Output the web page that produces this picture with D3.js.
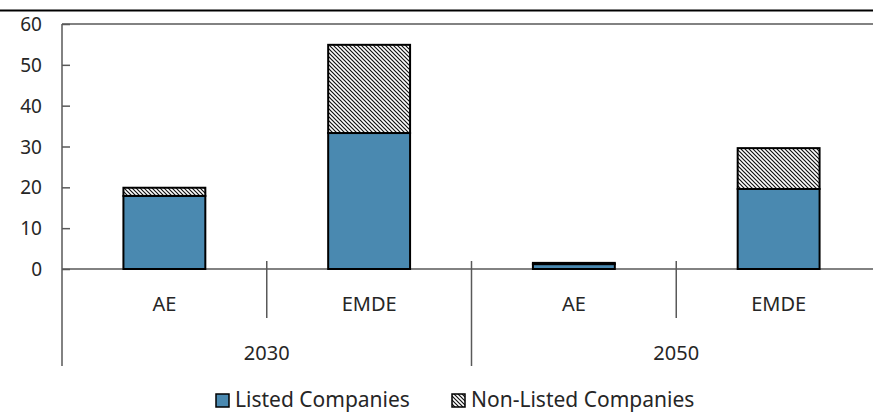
<!DOCTYPE html>
<html>
<head>
<meta charset="utf-8">
<script src="https://cdn.jsdelivr.net/npm/d3@7"></script>
<style>
  body { margin: 0; background: #fff; }
  text { font-family: "Noto Sans", "Open Sans", sans-serif; fill: #262626; }
</style>
</head>
<body>
<div id="chart"></div>
<script>
// data
var years = ["2030", "2050"];
var regions = ["AE", "EMDE"];
var listed = [17.9, 33.3, 1.2, 19.6];
var nonListed = [2.0, 21.6, 0.3, 10.0];
var yTicks = [0, 10, 20, 30, 40, 50, 60];
var seriesNames = ["Listed Companies", "Non-Listed Companies"];

var W = 873, H = 412;
var plotBottom = 269;

var svg = d3.select("#chart").append("svg")
    .attr("width", W)
    .attr("height", H);

// hatch pattern for non-listed
var defs = svg.append("defs");
var pat = defs.append("pattern")
    .attr("id", "hatch")
    .attr("patternUnits", "userSpaceOnUse")
    .attr("width", 4)
    .attr("height", 4);
pat.append("rect").attr("width", 4).attr("height", 4).attr("fill", "#fff");
pat.append("path")
    .attr("d", "M0,0 L4,4 M-1,3 L1,5 M3,-1 L5,1")
    .attr("stroke", "#111")
    .attr("stroke-width", 1.2);

// build the category list (year x region)
var cats = [];
years.forEach(function(yr) {
    regions.forEach(function(r) { cats.push({year: yr, region: r, key: yr + "-" + r}); });
});
cats.forEach(function(c, i) { c.listed = listed[i]; c.nonListed = nonListed[i]; });

var x = d3.scaleBand()
    .domain(cats.map(function(d) { return d.key; }))
    .range([62, 881])
    .paddingInner(0.6)
    .paddingOuter(0.3);
var step = x.step();

var y = d3.scaleLinear().domain([0, 60]).range([plotBottom, 24]);

// top black rule
svg.append("line")
    .attr("x1", 0).attr("x2", W)
    .attr("y1", 10.5).attr("y2", 10.5)
    .attr("stroke", "#000")
    .attr("stroke-width", 2);

// plot top border
svg.append("line")
    .attr("x1", 62).attr("x2", W)
    .attr("y1", 24).attr("y2", 24)
    .attr("stroke", "#595959")
    .attr("stroke-width", 1.5);

// y axis
var yAxis = d3.axisLeft(y).tickValues(yTicks).tickSize(-8).tickPadding(20);
var gy = svg.append("g")
    .attr("transform", "translate(62,0)")
    .call(yAxis);
gy.select(".domain").remove();
gy.selectAll(".tick line").attr("stroke", "#595959").attr("stroke-width", 1.5);
gy.selectAll(".tick text")
    .style("font-size", "19px")
    .attr("fill", "#262626")
    .attr("dy", "0.35em");

// left axis line extends down to the group labels
svg.append("line")
    .attr("x1", 62).attr("x2", 62)
    .attr("y1", 24).attr("y2", 366)
    .attr("stroke", "#595959")
    .attr("stroke-width", 1.5);

// zero line
svg.append("line")
    .attr("x1", 62).attr("x2", W)
    .attr("y1", y(0)).attr("y2", y(0))
    .attr("stroke", "#595959")
    .attr("stroke-width", 1.5);

// bars
var bars = svg.append("g");
cats.forEach(function(c) {
    var bx = x(c.key), bw = x.bandwidth();
    bars.append("rect")
        .attr("x", bx).attr("width", bw)
        .attr("y", y(c.listed))
        .attr("height", y(0) - y(c.listed))
        .attr("fill", "#4a89b0")
        .attr("stroke", "#000")
        .attr("stroke-width", 2);
    bars.append("rect")
        .attr("x", bx).attr("width", bw)
        .attr("y", y(c.listed + c.nonListed))
        .attr("height", y(c.listed) - y(c.listed + c.nonListed))
        .attr("fill", "url(#hatch)")
        .attr("stroke", "#000")
        .attr("stroke-width", 2);
});

// category separators
cats.forEach(function(c, i) {
    if (i === 0) return;
    var sx = x(c.key) - (step - x.bandwidth()) / 2;
    var long = (i % regions.length === 0);
    svg.append("line")
        .attr("x1", sx).attr("x2", sx)
        .attr("y1", 261).attr("y2", long ? 366 : 318)
        .attr("stroke", "#595959")
        .attr("stroke-width", 1.5);
});

// region labels
svg.append("g").selectAll("text")
    .data(cats)
  .enter().append("text")
    .attr("x", function(d) { return x(d.key) + x.bandwidth() / 2; })
    .attr("y", 311)
    .attr("text-anchor", "middle")
    .style("font-size", "20px")
    .text(function(d) { return d.region; });

// year labels
svg.append("g").selectAll("text")
    .data(years)
  .enter().append("text")
    .attr("x", function(yr) {
        var first = x(yr + "-" + regions[0]), last = x(yr + "-" + regions[regions.length - 1]);
        return (first + last + x.bandwidth()) / 2;
    })
    .attr("y", 360)
    .attr("text-anchor", "middle")
    .style("font-size", "20px")
    .text(function(d) { return d; });

// legend
var legendX = [216, 452];
var legendFill = ["#4a89b0", "url(#hatch)"];
var lg = svg.append("g");
seriesNames.forEach(function(name, i) {
    lg.append("rect")
        .attr("x", legendX[i]).attr("y", 394)
        .attr("width", 13).attr("height", 13)
        .attr("fill", legendFill[i])
        .attr("stroke", "#000")
        .attr("stroke-width", 1.5);
    lg.append("text")
        .attr("x", legendX[i] + 19)
        .attr("y", 407)
        .style("font-size", "21px")
        .text(name);
});
</script>
</body>
</html>
